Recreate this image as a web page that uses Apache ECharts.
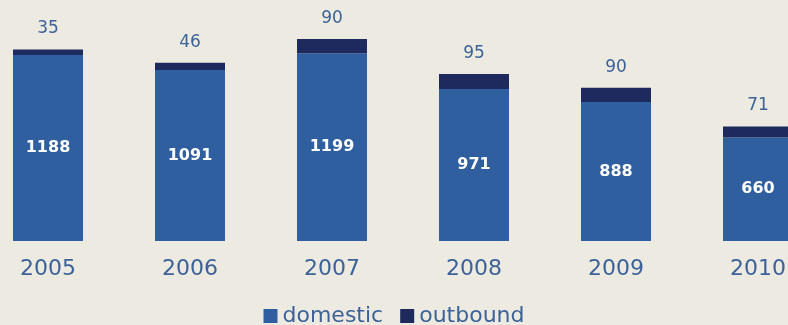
<!DOCTYPE html>
<html><head><meta charset="utf-8">
<script src="https://cdn.jsdelivr.net/npm/echarts@6/dist/echarts.min.js"></script>
<style>html,body{margin:0;padding:0;background:#EDEBE1;}#c{width:788px;height:325px;}</style>
</head><body><div id="c"></div>
<script>
const categories = ['2005','2006','2007','2008','2009','2010'];
const domestic = [1188, 1091, 1199, 971, 888, 660];
const outbound = [35, 46, 90, 95, 90, 71];

const chart = echarts.init(document.getElementById('c'), null, {renderer:'canvas'});
const font = 'DejaVu Sans';
chart.setOption({
  backgroundColor: '#EDEBE1',
  animation: false,
  grid: {left: -23, right: -41, top: 6, bottom: 84, containLabel: false, outerBoundsMode: 'none'},
  xAxis: {
    type: 'category', data: categories,
    axisLine: {show: false}, axisTick: {show: false},
    axisLabel: {fontFamily: font, fontSize: 22, color: '#3C6299', margin: 17}
  },
  yAxis: {type: 'value', min: 0, max: 1500, show: false, splitLine: {show: false}},
  legend: {
    top: 300, left: 'center', itemWidth: 14, itemHeight: 14, itemGap: 17,
    icon: 'rect',
    textStyle: {fontFamily: font, fontSize: 22, color: '#3C6299'},
    data: ['domestic', 'outbound']
  },
  series: [
    {name: 'domestic', type: 'bar', stack: 't', barWidth: 70, data: domestic,
     itemStyle: {color: '#2F5F9E'},
     label: {show: true, position: 'inside', color: '#FFFFFF', fontFamily: font, fontWeight: 'bold', fontSize: 16}},
    {name: 'outbound', type: 'bar', stack: 't', barWidth: 70, data: outbound,
     itemStyle: {color: '#1E2A5E'},
     label: {show: true, position: 'top', distance: 12, color: '#3C6299', fontFamily: font, fontSize: 17}}
  ]
});
</script></body></html>
